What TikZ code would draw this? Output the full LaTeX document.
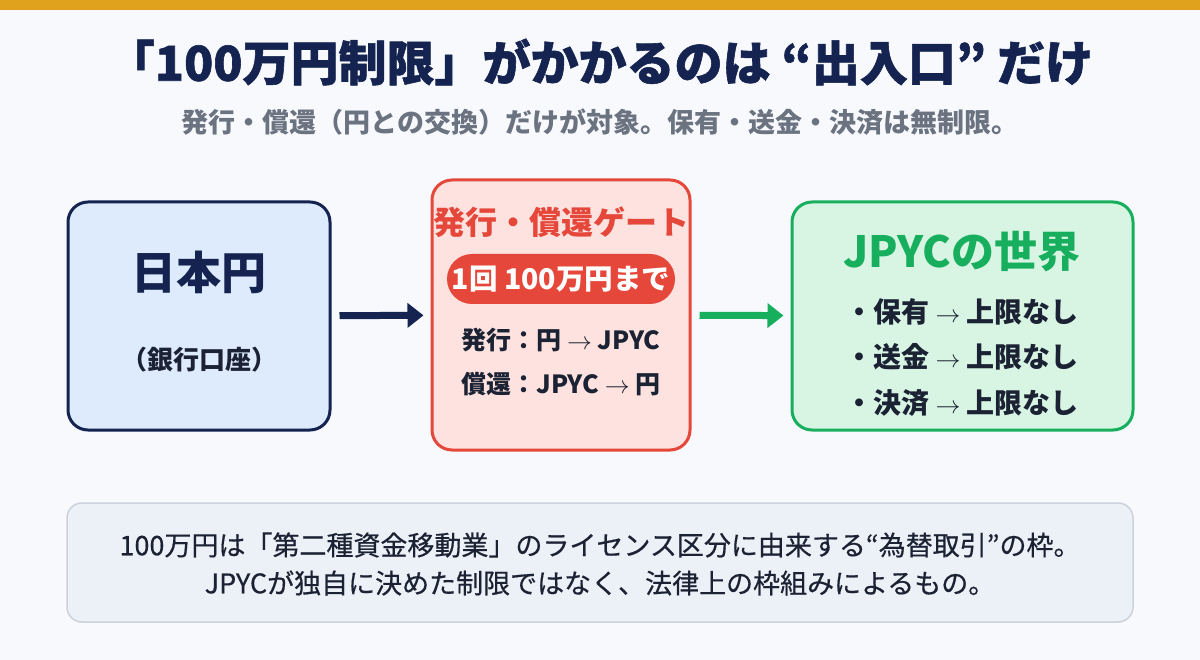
\documentclass[tikz,border=0pt]{standalone}
\usepackage{fontspec}
\setmainfont{Noto Sans CJK JP}
\newfontfamily\heavyfont{Noto Sans CJK JP}[BoldFeatures={FakeBold=1.2}]
\newfontfamily\notefont{Noto Sans CJK JP}[FakeBold=0.5]
\usepackage{xcolor}
\usetikzlibrary{arrows.meta, positioning}
\definecolor{colBg}{HTML}{F7F9FD}
\definecolor{colBar}{HTML}{E0A21C}
\definecolor{colNavy}{HTML}{14234F}
\definecolor{colSub}{HTML}{6B7280}
\definecolor{colInk}{HTML}{1B2233}
\definecolor{colYen}{HTML}{DDEBFD}
\definecolor{colGate}{HTML}{E5473A}
\definecolor{colGateBg}{HTML}{FDE2DF}
\definecolor{colWorld}{HTML}{17AE5E}
\definecolor{colWorldBg}{HTML}{D8F5E4}
\definecolor{colNote}{HTML}{ECF0F7}
\definecolor{colNoteLine}{HTML}{CBD2DC}
\newcommand{\fs}[1]{\fontsize{#1}{#1}\selectfont}
\newcommand{\ra}{\ \ensuremath{\rightarrow}\ }

\begin{document}
\begin{tikzpicture}[
  x=1pt, y=-1pt,
  box/.style={rectangle, rounded corners=20pt, line width=3pt, inner sep=0pt},
  txt/.style={inner sep=0pt, anchor=center, text=colInk},
  arr/.style={line width=7pt, -{Triangle[length=16pt, width=24pt]},
              shorten <=8pt, shorten >=7pt},
]

% Page
\useasboundingbox (0,0) rectangle (1200,660);
\fill[colBg] (0,0) rectangle (1200,660);
\fill[colBar] (0,0) rectangle (1200,10);

% Heading
\node[txt, text=colNavy, font=\fs{48}\heavyfont\bfseries] (title) at (600,62)
  {「100万円制限」がかかるのは “出入口” だけ};
\node[txt, text=colSub, font=\fs{27}\bfseries] (subtitle) at (600,122)
  {発行・償還（円との交換）だけが対象。保有・送金・決済は無制限。};

% Boxes
\node[box, draw=colNavy, fill=colYen, minimum width=262pt, minimum height=228pt]
  (yen) at (199,316) {};
\node[box, draw=colGate, fill=colGateBg, minimum width=258pt, minimum height=270pt]
  (gate) at (561,315) {};
\node[box, draw=colWorld, fill=colWorldBg, minimum width=341pt, minimum height=228pt]
  (world) at (962.5,316) {};

% Yen
\node[txt, text=colNavy, font=\fs{45}\bfseries] (yenT) at (199,272) {日本円};
\node[txt, font=\fs{26}\bfseries] (yenS) at (199,360) {（銀行口座）};

% Gate
\node[txt, text=colGate, font=\fs{32}\bfseries] (gateT) at (561,222) {発行・償還ゲート};
\node[rectangle, rounded corners=25pt, fill=colGate, minimum width=228pt,
      minimum height=50pt, text=white, font=\fs{28.5}\bfseries, inner sep=0pt]
  (limit) at (561,279) {1回 100万円まで};
\node[txt, font=\fs{25}\bfseries] (issue) at (561,340) {発行：円\ra JPYC};
\node[txt, font=\fs{25}\bfseries, below=20pt of issue] (redeem) {償還：JPYC\ra 円};

% World
\node[txt, text=colWorld, font=\fs{43}\bfseries] (worldT) at (962,252) {JPYCの世界};
\node[txt, font=\fs{28}\bfseries] (hold) at (962,312) {・保有\ra 上限なし};
\node[txt, font=\fs{28}\bfseries] (send) at (962,357) {・送金\ra 上限なし};
\node[txt, font=\fs{28}\bfseries] (pay) at (962,403) {・決済\ra 上限なし};

% Arrows
\draw[arr, colNavy] (yen) -- (gate);
\draw[arr, colWorld] (gate) -- (world);

% Note
\node[rectangle, rounded corners=15pt, draw=colNoteLine, line width=1.5pt,
      fill=colNote, minimum width=1066pt, minimum height=119pt] (note) at (600,562.5) {};
\node[txt, font=\fs{27}\notefont] (note1) at (600,545)
  {100万円は「第二種資金移動業」のライセンス区分に由来する“為替取引”の枠。};
\node[txt, font=\fs{27}\notefont] (note2) at (600,583)
  {JPYCが独自に決めた制限ではなく、法律上の枠組みによるもの。};

\end{tikzpicture}
\end{document}
